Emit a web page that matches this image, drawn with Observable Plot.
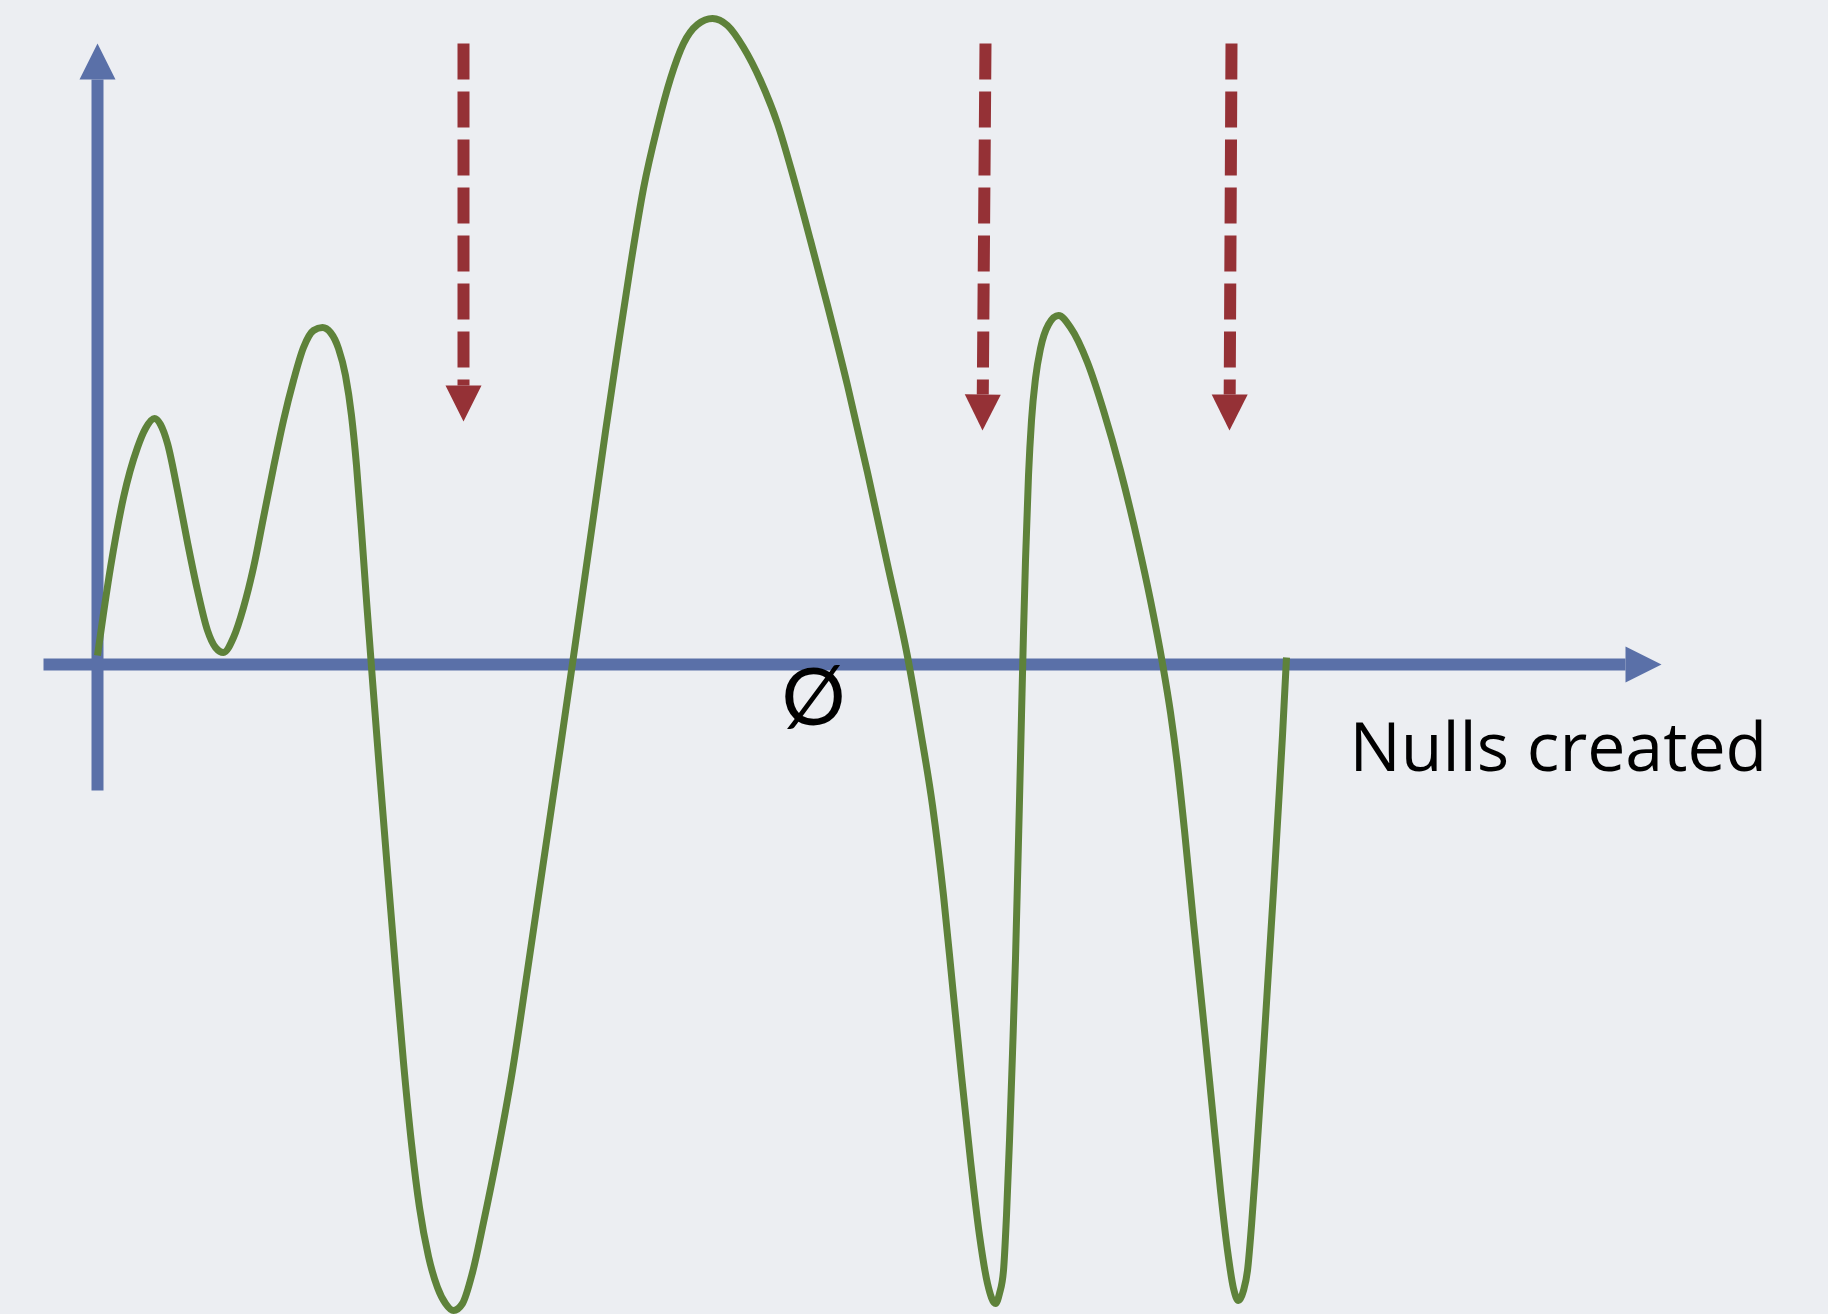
<!DOCTYPE html>
<html>
<head>
<meta charset="utf-8">
<script src="https://cdn.jsdelivr.net/npm/d3@7"></script>
<script src="https://cdn.jsdelivr.net/npm/@observablehq/plot@0.6"></script>
<style>
  html, body { margin: 0; padding: 0; background: #eceef2; }
  #chart svg { display: block; }
</style>
</head>
<body>
<div id="chart"></div>
<script>
// ---- Data (origin = where the two axes cross) ----
const waveX = [0, 13, 26, 40, 48, 57,
  63, 70, 80, 90, 100, 110, 118, 126,
  136, 146, 156, 166, 176, 186, 196, 206, 216, 225,
  233, 241, 248, 254, 259, 264, 269, 275, 282, 290, 298, 306, 314, 322, 331, 340, 348, 356,
  365, 375, 386, 400, 415, 430, 445, 463, 475, 483, 496, 508, 520, 533, 546, 560, 573, 586, 600, 615,
  630, 646, 663, 680, 696, 713, 730, 750, 770, 790, 810, 823, 835, 846, 855, 864, 873, 882, 890, 898,
  902, 906, 909, 912, 915, 918, 920, 922, 924, 926, 928, 931, 934, 938, 943, 951, 961,
  973, 990, 1006, 1023, 1040, 1053, 1065, 1073, 1080, 1087, 1096, 1106, 1115, 1123, 1130, 1136, 1141,
  1146, 1150, 1154, 1158, 1162, 1166, 1171, 1176, 1181, 1185, 1189];
const waveY = [9, 97, 167, 217, 236, 246,
  240, 221, 174, 122, 74, 34, 17, 12,
  27, 57, 97, 147, 197, 244, 284, 317, 334, 337,
  332, 316, 289, 249, 199, 134, 64, -16, -106, -206, -304, -398, -479, -543, -592, -623, -639, -646,
  -639, -608, -558, -489, -406, -306, -204, -82, 1, 57, 148, 233, 314, 399, 476, 538, 586, 621, 640, 646,
  639, 617, 584, 541, 487, 424, 359, 279, 192, 100, 8, -66, -141, -231, -321, -411, -496, -571, -619, -639,
  -629, -606, -551, -476, -389, -294, -216, -136, -51, 32, 104, 189, 244, 286, 316, 340, 349,
  337, 302, 254, 194, 124, 64, 1, -48, -101, -166, -258, -356, -446, -526, -586, -624, -636,
  -626, -606, -561, -506, -446, -386, -306, -226, -141, -71, 7];

// axis arrows: start point and tip
const axisNames  = ["vertical", "horizontal"];
const axisStartX = [0, -54];
const axisStartY = [-126, 0];
const axisTipX   = [0, 1564];
const axisTipY   = [621, 0];

// red dashed "null" arrows: top of shaft and tip of head
const nullTopX = [366, 888, 1134];
const nullTopY = [621, 621, 621];
const nullTipX = [366, 885, 1132];
const nullTipY = [243, 234, 234];

// labels
const labelText = ["Nulls created", "Ø"];
const labelX = [1252, 716];
const labelY = [-106, -35];

// ---- styles ----
const BLUE = "#5a70a8", RED = "#953136", GREEN = "#5e823a", BG = "#eceef2";
const HEAD = 36;          // arrow head length (data units = px)

// filled triangular arrow head, tip at the symbol's origin pointing up
const headSymbol = {
  draw(ctx, size) {
    const r = Math.sqrt(size / Math.PI);
    ctx.moveTo(0, 0);
    ctx.lineTo(r, 2 * r);
    ctx.lineTo(-r, 2 * r);
    ctx.closePath();
  }
};

function arrowRows(x1s, y1s, x2s, y2s) {
  return x1s.map((x1, i) => {
    const y1 = y1s[i], x2 = x2s[i], y2 = y2s[i];
    const dx = x2 - x1, dy = y2 - y1, len = Math.hypot(dx, dy);
    return {
      x1, y1, tipX: x2, tipY: y2,
      baseX: x2 - HEAD * dx / len, baseY: y2 - HEAD * dy / len,
      rotate: Math.atan2(dx, dy) * 180 / Math.PI
    };
  });
}

const wave = waveX.map((x, i) => ({x, y: waveY[i]}));
const axes = arrowRows(axisStartX, axisStartY, axisTipX, axisTipY).map((d, i) => ({...d, name: axisNames[i]}));
const nulls = arrowRows(nullTopX, nullTopY, nullTipX, nullTipY);

const chart = Plot.plot({
  width: 1828,
  height: 1314,
  margin: 0,
  x: {domain: [-97, 1731], axis: null},
  y: {domain: [-650, 664], axis: null},
  style: {background: BG, overflow: "visible"},
  marks: [
    Plot.link(axes, {x1: "x1", y1: "y1", x2: "baseX", y2: "baseY", stroke: BLUE, strokeWidth: 12}),
    Plot.dot(axes, {x: "tipX", y: "tipY", symbol: headSymbol, r: 18, fill: BLUE, stroke: "none", rotate: "rotate"}),
    Plot.link(nulls, {x1: "x1", y1: "y1", x2: "baseX", y2: "baseY", stroke: RED, strokeWidth: 12, strokeDasharray: "36,12"}),
    Plot.dot(nulls, {x: "tipX", y: "tipY", symbol: headSymbol, r: 18, fill: RED, stroke: "none", rotate: "rotate"}),
    Plot.line(wave, {x: "x", y: "y", stroke: GREEN, strokeWidth: 7, curve: "monotone-x", strokeLinecap: "butt"}),
    Plot.text([labelText[0]], {x: [labelX[0]], y: [labelY[0]], text: d => d, textAnchor: "start", lineAnchor: "bottom",
      fontSize: 68, fontFamily: "'Open Sans', sans-serif", fill: "#000"}),
    Plot.text([labelText[1]], {x: [labelX[1]], y: [labelY[1]], text: d => d, textAnchor: "middle", lineAnchor: "middle",
      fontSize: 80, fontFamily: "Lato, sans-serif", fill: "#000"})
  ]
});
document.getElementById("chart").appendChild(chart);
</script>
</body>
</html>
